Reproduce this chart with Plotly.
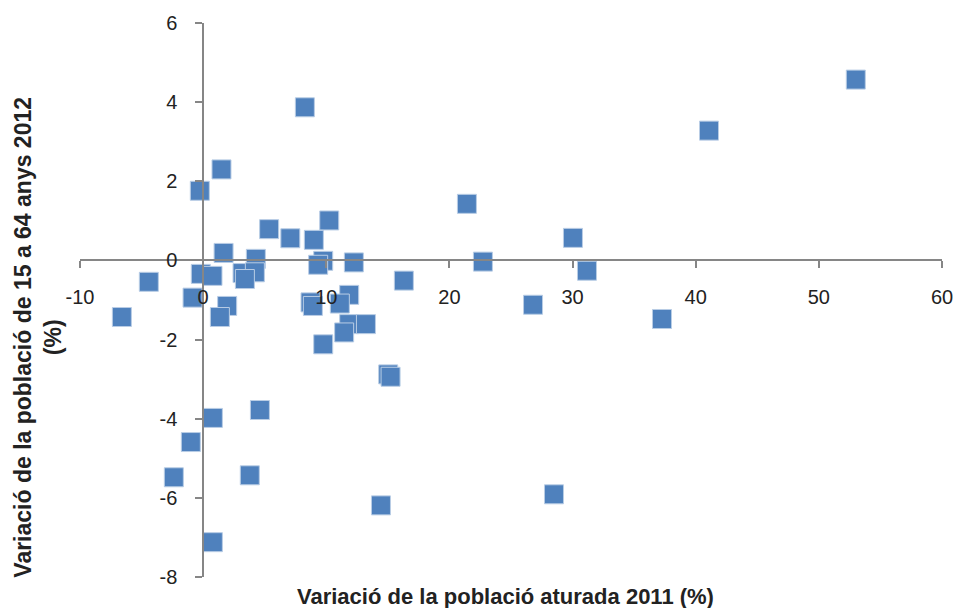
import plotly.graph_objects as go

# Variació de la població aturada 2011 (%)
x_aturada = [53.0, 41.08, 8.26, 1.49, -0.27, 21.42, 10.24, 5.36, 7.08, 8.99,
             30.03, 1.66, 4.28, 9.75, 12.24, 22.72, 9.34, 31.17, -0.19, 0.76,
             3.20, 4.20, 3.39, -4.41, 16.30, -0.86, 11.86, 11.10, 8.72, 8.91,
             1.95, 1.36, -6.60, 26.79, 37.26, 11.86, 13.22, 11.45, 9.75, 15.03,
             15.22, 4.61, 0.79, -1.0, -2.38, 3.79, 14.44, 28.49, 0.79]
# Variació de la població de 15 a 64 anys 2012 (%)
y_poblacio = [4.57, 3.28, 3.87, 2.30, 1.76, 1.43, 1.01, 0.79, 0.56, 0.52,
              0.57, 0.19, 0.04, -0.01, -0.05, -0.03, -0.11, -0.26, -0.34, -0.39,
              -0.32, -0.30, -0.47, -0.54, -0.51, -0.94, -0.87, -1.09, -1.06, -1.15,
              -1.15, -1.43, -1.43, -1.12, -1.48, -1.61, -1.61, -1.82, -2.12, -2.88,
              -2.94, -3.78, -3.98, -4.59, -5.48, -5.43, -6.19, -5.91, -7.12]

x_ticks = [-10, 0, 10, 20, 30, 40, 50, 60]
x_tick_labels = ["-10", "0", "10", "20", "30", "40", "50", "60"]
y_ticks = [-8, -6, -4, -2, 0, 2, 4, 6]
y_tick_labels = ["-8", "-6", "-4", "-2", "0", "2", "4", "6"]
x_title = "Variació de la població aturada 2011 (%)"
y_title = "Variació de la població de 15 a 64 anys 2012<br>(%)"

XR = [-10, 60]
YR = [-8, 6]

fig = go.Figure()
fig.add_trace(go.Scatter(
    x=x_aturada, y=y_poblacio, mode="markers",
    marker=dict(symbol="square", size=19, color="#4F81BD",
                line=dict(color="#B9CDE5", width=1)),
    showlegend=False, hoverinfo="x+y", cliponaxis=False))

tickfont = dict(family="Liberation Sans", size=20, color="#222222")
fig.update_layout(
    width=956, height=608,
    margin=dict(l=80, r=14, t=23, b=31, autoexpand=False),
    plot_bgcolor="white", paper_bgcolor="white",
    xaxis=dict(range=XR, tickvals=x_ticks, ticktext=x_tick_labels,
               showgrid=False, zeroline=False, automargin=False,
               showline=True, linecolor="#868686", linewidth=1.5,
               ticks="outside", ticklen=7, tickcolor="#868686", tickwidth=1.5,
               tickfont=tickfont, anchor="free",
               position=(0 - YR[0]) / (YR[1] - YR[0]),
               ticklabelstandoff=12),
    yaxis=dict(range=YR, tickvals=y_ticks, ticktext=y_tick_labels,
               showgrid=False, zeroline=False, automargin=False,
               showline=True, linecolor="#868686", linewidth=1.5,
               ticks="outside", ticklen=7, tickcolor="#868686", tickwidth=1.5,
               tickfont=tickfont, anchor="free",
               position=(0 - XR[0]) / (XR[1] - XR[0]),
               ticklabelstandoff=14),
    annotations=[
        dict(text="<b>" + x_title + "</b>", xref="paper", yref="paper",
             x=0.4936, y=-0.036, xanchor="center", yanchor="middle",
             showarrow=False,
             font=dict(family="Liberation Sans", size=22, color="#222222")),
        dict(text="<b>" + y_title + "</b>", xref="paper", yref="paper",
             x=-0.0487, y=0.432, xanchor="center", yanchor="middle",
             textangle=-90, showarrow=False,
             font=dict(family="Liberation Sans", size=23, color="#222222")),
    ],
)

fig.write_html(
    "out.html",
    config={"displayModeBar": False},
    default_width="956px", default_height="608px",
    post_script="document.body.style.margin='0';"
                "document.body.style.overflow='hidden';",
)
